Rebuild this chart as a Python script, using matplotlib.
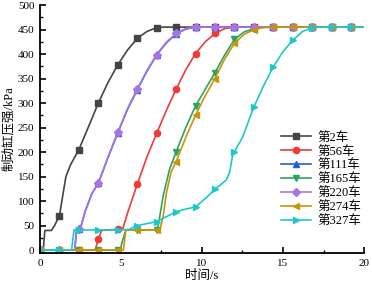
import numpy as np
import matplotlib
matplotlib.use("Agg")
import matplotlib.pyplot as plt
from matplotlib.ticker import MultipleLocator

plt.rcParams['font.family'] = ['Liberation Serif', 'Noto Sans CJK SC']
plt.rcParams['axes.unicode_minus'] = False

# data (time s, pressure kPa)
t_2 = [0, 0.2, 0.3, 0.7, 0.9, 1.2, 1.4, 1.6, 1.9, 2.4, 3.0, 3.6, 4.2, 4.8, 5.4, 6.0, 6.6, 7.2,
       7.6, 8.4, 9.6, 10.8, 12.0, 13.2, 14.4, 15.6, 16.8, 18.0, 19.2, 20]
p_2 = [0, 0, 40, 40, 50, 70, 110, 150, 175, 205, 252, 300, 342, 378, 408, 432, 446, 454,
       455, 455, 455, 455, 455, 455, 455, 455, 455, 455, 455, 455]

t_56 = [0, 1.2, 2.4, 3.4, 3.6, 3.8, 4.8, 5.1, 5.4, 6.0, 6.6, 7.2, 7.8, 8.4, 9.0, 9.6, 10.2,
        10.8, 11.4, 12.0, 13.2, 14.4, 15.6, 16.8, 18.0, 19.2, 20]
p_56 = [0, 0, 0, 0, 22, 40, 42, 42, 75, 134, 190, 238, 285, 328, 368, 401, 425,
        442, 452, 455, 455, 455, 455, 455, 455, 455, 455]

t_220 = [0, 1.2, 2.15, 2.25, 2.4, 2.5, 2.8, 3.2, 3.6, 4.2, 4.8, 5.4, 6.0, 6.6, 7.2, 7.8, 8.4,
         9.0, 9.6, 10.8, 12.0, 13.2, 14.4, 15.6, 16.8, 18.0, 19.2, 20]
p_220 = [0, 0, 0, 40, 42, 45, 80, 115, 137, 190, 240, 288, 328, 366, 399, 424, 442,
         452, 455, 455, 455, 455, 455, 455, 455, 455, 455, 455]

t_111 = t_220
p_111 = [0, 0, 0, 40, 42, 45, 80, 115, 136, 189, 239, 287, 327, 365, 398, 423, 441,
         451, 455, 455, 455, 455, 455, 455, 455, 455, 455, 455]

t_165 = [0, 1.2, 2.4, 3.6, 4.8, 4.95, 5.1, 5.3, 6.0, 7.2, 7.3, 7.6, 8.0, 8.4, 9.0, 9.6, 10.2,
         10.8, 11.4, 12.0, 12.6, 13.2, 13.8, 14.4, 15.6, 16.8, 18.0, 19.2, 20]
p_165 = [0, 0, 0, 0, 0, 0, 20, 41, 41, 41, 50, 110, 165, 200, 250, 294, 328,
         362, 398, 430, 445, 452, 455, 455, 455, 455, 455, 455, 455]

t_274 = [0, 1.2, 2.4, 3.6, 4.8, 5.15, 5.3, 6.0, 7.2, 7.4, 7.6, 7.8, 8.1, 8.4, 9.0, 9.6, 10.2,
         10.8, 11.4, 12.0, 12.6, 13.2, 13.8, 14.4, 15.6, 16.8, 18.0, 19.2, 20]
p_274 = [0, 0, 0, 0, 0, 0, 41, 41, 41, 41, 68, 116, 160, 180, 230, 275, 315,
         350, 390, 422, 440, 450, 454, 455, 455, 455, 455, 455, 455]

t_327 = [0, 1.2, 1.95, 2.1, 2.4, 3.6, 4.8, 5.5, 6.0, 6.6, 7.2, 7.8, 8.4, 8.8, 9.6, 10.2,
         10.8, 11.5, 11.7, 11.9, 12.0, 12.5, 13.2, 13.8, 14.4, 15.0, 15.6, 16.2, 16.8, 17.2,
         18.0, 19.2, 20]
p_327 = [0, 0, 0, 41, 41, 41, 41, 42, 50, 54, 58, 68, 78, 82, 88, 105,
         124, 143, 158, 195, 200, 230, 292, 335, 374, 405, 428, 446, 454, 455,
         455, 455, 455]

labels = ['第2车', '第56车', '第111车', '第165车', '第220车', '第274车', '第327车']
colors = ['#444444', '#f03a3a', '#1f5fdf', '#2ca464', '#a875e0', '#c8940a', '#1ec8c8']
markers = ['s', 'o', '^', 'v', 'D', '<', '>']
msizes = [4, 4.5, 4.5, 4.5, 3.6, 4.5, 4.5]
series = [(t_2, p_2), (t_56, p_56), (t_111, p_111), (t_165, p_165),
          (t_220, p_220), (t_274, p_274), (t_327, p_327)]

fig = plt.figure(figsize=(3.72, 2.90), dpi=100)
ax = fig.add_axes([0.1075, 0.1276, 0.871, 0.855])

for (t, p), lab, c, m, ms in zip(series, labels, colors, markers, msizes):
    t = np.array(t)
    idx = [i for i, v in enumerate(t) if abs(v / 1.2 - round(v / 1.2)) < 1e-6]
    ax.plot(t, p, color=c, lw=1.2, marker=m, ms=ms, markevery=idx, label=lab)

ax.set_xlim(0, 20)
ax.set_ylim(-6, 500)
ax.xaxis.set_major_locator(MultipleLocator(5))
ax.xaxis.set_minor_locator(MultipleLocator(2.5))
ax.yaxis.set_major_locator(MultipleLocator(50))
ax.yaxis.set_minor_locator(MultipleLocator(25))
ax.spines['top'].set_visible(False)
ax.spines['right'].set_visible(False)
ax.spines['left'].set_linewidth(1.3)
ax.spines['bottom'].set_linewidth(1.3)
ax.tick_params(which='major', direction='in', length=4, width=1.2, labelsize=8, pad=4)
ax.tick_params(which='minor', direction='in', length=2, width=1.0)

ax.set_xlabel('时间/s', fontsize=9, labelpad=2)
ax.set_ylabel('制动缸压强/kPa', fontsize=9, labelpad=2)

ax.legend(loc='lower right', bbox_to_anchor=(1.01, 0.08), frameon=False, fontsize=9,
          handlelength=2.4, handletextpad=0.5, labelspacing=0.15, borderpad=0)

fig.savefig('out.png', dpi=100)
